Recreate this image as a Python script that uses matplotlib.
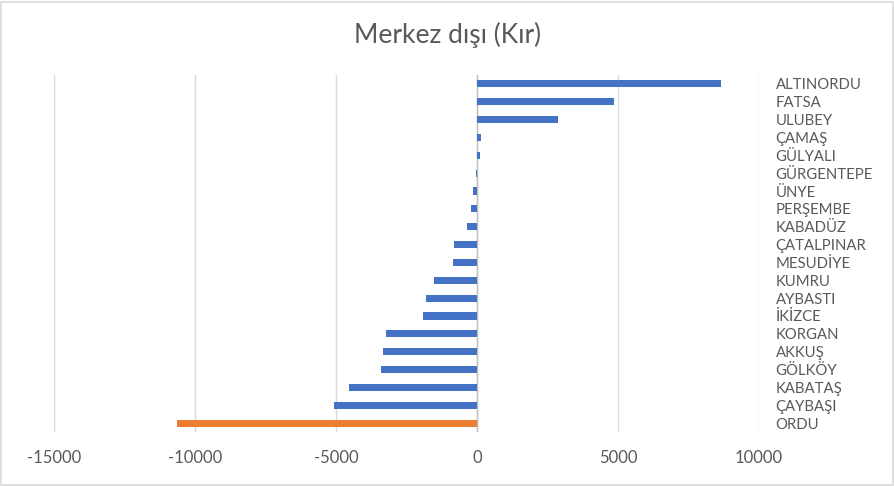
import matplotlib
matplotlib.use("Agg")
from matplotlib import pyplot as plt
from matplotlib.patches import Rectangle

plt.rcParams["font.family"] = ["Lato", "DejaVu Sans"]

districts = ["ALTINORDU", "FATSA", "ULUBEY", "ÇAMAŞ", "GÜLYALI", "GÜRGENTEPE",
             "ÜNYE", "PERŞEMBE", "KABADÜZ", "ÇATALPINAR", "MESUDİYE", "KUMRU",
             "AYBASTI", "İKİZCE", "KORGAN", "AKKUŞ", "GÖLKÖY", "KABATAŞ",
             "ÇAYBAŞI", "ORDU"]
values = [8650, 4850, 2860, 130, 95, -45, -130, -200, -345, -800, -865, -1540,
          -1820, -1930, -3240, -3350, -3420, -4550, -5060, -10650]
xticks = [-15000, -10000, -5000, 0, 5000, 10000]

text_color = "#595959"
grid_color = "#D9D9D9"
colors = ["#ED7D31" if d == "ORDU" else "#4472C4" for d in districts]

fig = plt.figure(figsize=(8.95, 4.86), dpi=100)
ax = fig.add_axes([54 / 895, 1 - 432 / 486, (759 - 54) / 895, (432 - 75) / 486])

ypos = list(range(len(districts)))
ax.barh(ypos, values, height=0.4, color=colors, zorder=3)

ax.set_xlim(-15000, 10000)
ax.set_ylim(len(districts) - 0.5, -0.5)
ax.set_xticks(xticks)
ax.set_xticklabels([str(t) for t in xticks], color=text_color, fontsize=12)
ax.tick_params(axis="x", length=0, pad=13)

ax.yaxis.tick_right()
ax.set_yticks(ypos)
ax.set_yticklabels(districts, color=text_color, fontsize=10.7)
ax.tick_params(axis="y", length=0, pad=12)

ax.grid(axis="x", color=grid_color, linewidth=1, zorder=0)
ax.axvline(0, color="#BFBFBF", linewidth=1, zorder=2)
for s in ax.spines.values():
    s.set_visible(False)

fig.text(0.5, 1 - 35 / 486, "Merkez dışı (Kır)", ha="center", va="center",
         fontsize=19, color=text_color)

fig.patches.append(Rectangle((1 / 895, 1 / 486), 892 / 895, 483 / 486,
                             transform=fig.transFigure, fill=False,
                             edgecolor=grid_color, linewidth=1.2))

fig.savefig("out.png", dpi=100)
